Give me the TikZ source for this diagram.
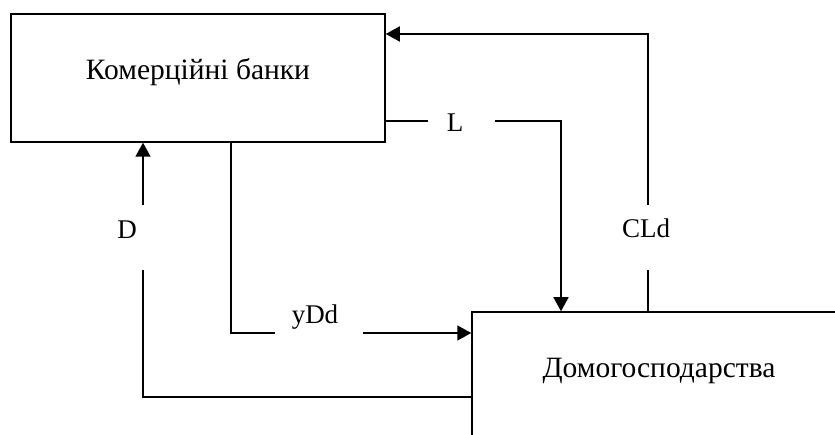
\documentclass[tikz,border=0pt]{standalone}
\usepackage{fontspec}
\setmainfont{Liberation Serif}
\usetikzlibrary{arrows.meta}
\begin{document}
\begin{tikzpicture}[x=1pt,y=-1pt,
  box/.style={draw, line width=1.5pt, minimum width=374pt, minimum height=128pt, inner sep=0pt,
    font=\fontsize{29.5}{34}\selectfont, text height=20pt, text depth=17pt},
  lbl/.style={font=\fontsize{27}{31}\selectfont, inner sep=0pt, anchor=base},
  conn/.style={line width=1.5pt},
  arr/.style={conn, -{Triangle[length=14pt,width=15pt]}}]
\useasboundingbox (0,0) rectangle (835,435);
\node[box] (bank) at (198,78) {Комерційні банки};
\node[box] (hh) at (659,376) {Домогосподарства};
\node[lbl] (cld) at (646,238) {CLd};
\node[lbl] (l) at (455,132) {L};
\node[lbl] (ydd) at (315,324) {yDd};
\node[lbl] (d) at (127,239) {D};
% CLd
\coordinate (c1) at (648,270); \coordinate (c2) at (648,205); \coordinate (c3) at (648,34);
\draw[conn] (hh.north -| c1) -- (c1);
\draw[arr] (c2) -- (c3) -- (bank.east |- c3);
% L
\coordinate (l1) at (428,121); \coordinate (l2) at (495,121); \coordinate (l3) at (561,121);
\draw[conn] (bank.east |- l1) -- (l1);
\draw[arr] (l2) -- (l3) -- (hh.north -| l3);
% yDd
\coordinate (y1) at (231,333); \coordinate (y2) at (275,333); \coordinate (y3) at (363,333);
\draw[conn] (bank.south -| y1) -- (y1) -- (y2);
\draw[arr] (y3) -- (hh.west |- y3);
% D
\coordinate (d1) at (143,397); \coordinate (d2) at (143,270); \coordinate (d3) at (143,205);
\draw[conn] (hh.west |- d1) -- (d1) -- (d2);
\draw[arr] (d3) -- (bank.south -| d3);
\end{tikzpicture}
\end{document}
